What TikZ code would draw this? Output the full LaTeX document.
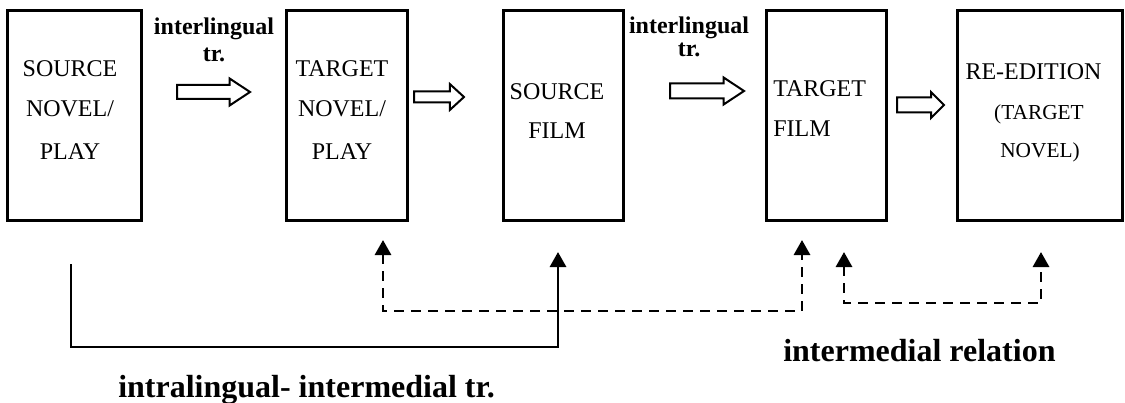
\documentclass[tikz,border=0pt]{standalone}
\usepackage{fontspec}
\setmainfont{Liberation Serif}
\usetikzlibrary{arrows.meta,shapes.arrows}
\begin{document}
\begin{tikzpicture}[x=0.75pt,y=-0.75pt,
 box/.style={draw,line width=2.25pt,inner sep=0pt},
 txt/.style={anchor=base,inner sep=0pt,font=\fontsize{18}{20}\selectfont},
 stxt/.style={anchor=base,inner sep=0pt,font=\fontsize{16}{18}\selectfont},
 toplbl/.style={anchor=base,inner sep=0pt,font=\bfseries\fontsize{18}{20}\selectfont},
 botlbl/.style={anchor=base west,inner sep=0pt,font=\bfseries\fontsize{24}{26}\selectfont},
 hollow/.style={single arrow,draw,line width=1.5pt,anchor=tail,inner sep=0pt,minimum width=0pt,text depth=0pt},
 conn/.style={line width=2.2pt,line join=miter,-{Triangle[width=12pt,length=11.25pt]}},
 dconn/.style={line width=2.2pt,line join=miter,{Triangle[width=12pt,length=11.25pt]}-{Triangle[width=12pt,length=11.25pt]},dash pattern=on 7.5pt off 5.25pt}
]
\useasboundingbox (0,0) rectangle (1125,403);
% boxes
\node[box,minimum width=100.5pt,minimum height=156.75pt] (b1) at (74,115.5) {};
\node[box,minimum width=90.75pt,minimum height=156.75pt] (b2) at (346.5,115.5) {};
\node[box,minimum width=90pt,minimum height=156.75pt] (b3) at (563,115.5) {};
\node[box,minimum width=90pt,minimum height=156.75pt] (b4) at (826,115.5) {};
\node[box,minimum width=123.75pt,minimum height=156.75pt] (b5) at (1039.5,115.5) {};
% box texts
\node[txt] (t1a) at (70,77) {SOURCE};
\node[txt] (t1b) at (70,117) {NOVEL/};
\node[txt] (t1c) at (70,159) {PLAY};
\node[txt] (t2a) at (342,77) {TARGET};
\node[txt] (t2b) at (342,117) {NOVEL/};
\node[txt] (t2c) at (342,159) {PLAY};
\node[txt] (t3a) at (557,99) {SOURCE};
\node[txt] (t3b) at (557,138) {FILM};
\node[txt,anchor=base west] (t4a) at (773,97) {TARGET};
\node[txt,anchor=base west] (t4b) at (773,137) {FILM};
\node[txt] (t5a) at (1033.5,80) {RE-EDITION};
\node[stxt] (t5b) at (1039,119) {(TARGET};
\node[stxt] (t5c) at (1040,157) {NOVEL)};
% top labels
\node[toplbl] (l1a) at (214,35) {interlingual};
\node[toplbl] (l1b) at (214,62) {tr.};
\node[toplbl] (l2a) at (689,34) {interlingual};
\node[toplbl] (l2b) at (689,57) {tr.};
% hollow arrows
\node[hollow,minimum height=54.75pt,text height=9pt,single arrow head extend=4.875pt,single arrow tip angle=67] (h1) at (176,92) {};
\node[hollow,minimum height=37.5pt,text height=6.75pt,single arrow head extend=5.6pt,single arrow tip angle=85] (h2) at (413,97) {};
\node[hollow,minimum height=55.5pt,text height=9.75pt,single arrow head extend=4.5pt,single arrow tip angle=67] (h3) at (669,91) {};
\node[hollow,minimum height=35.25pt,text height=9.75pt,single arrow head extend=4.1pt,single arrow tip angle=90] (h4) at (896,105) {};
% connector end points
\coordinate (s1) at (71,264);
\coordinate (s3) at (558,252);
\coordinate (d1) at (383,240);
\coordinate (d2) at (802,240);
\coordinate (d3) at (844,252);
\coordinate (d4) at (1041,252);
\draw[conn] (s1) -- ++(0,83) -| (s3);
\draw[dconn] (d1) -- ++(0,71) -| (d2);
\draw[dconn] (d3) -- ++(0,51) -| (d4);
% bottom labels
\node[botlbl] (bl1) at (118,397) {intralingual- intermedial tr.};
\node[botlbl] (bl2) at (783,361) {intermedial relation};
\end{tikzpicture}
\end{document}
